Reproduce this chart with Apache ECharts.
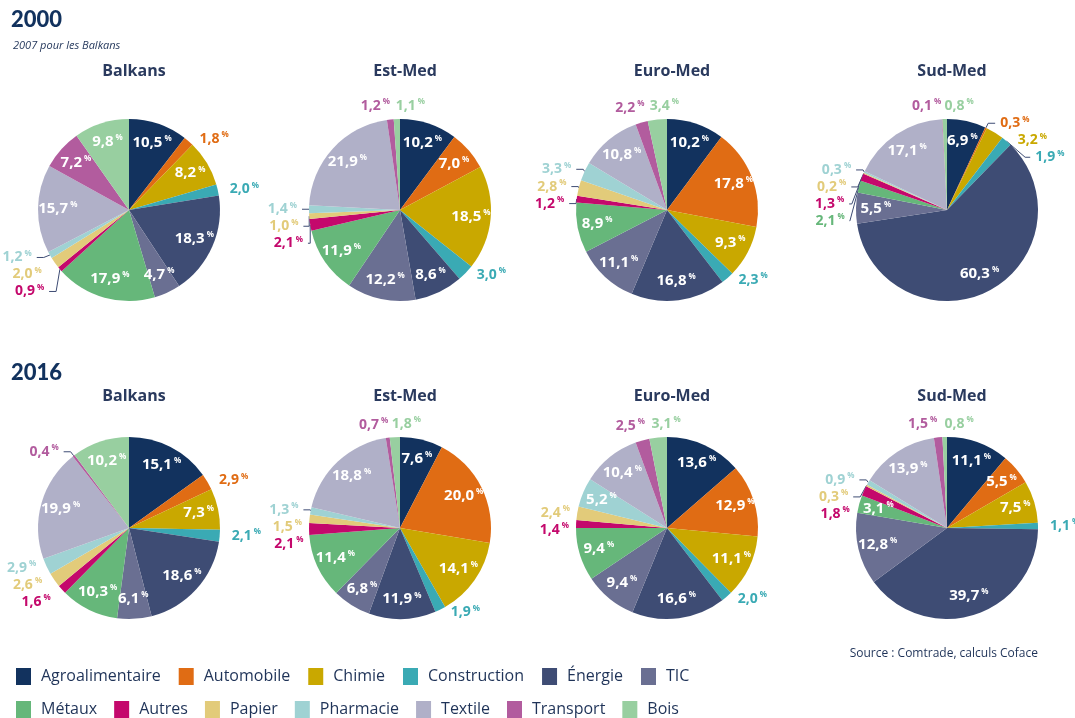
<!DOCTYPE html>
<html><head><meta charset="utf-8">
<script src="https://cdn.jsdelivr.net/npm/echarts@6/dist/echarts.min.js"></script>
<style>html,body{margin:0;padding:0;background:#fff}#c{width:1075px;height:718px}</style>
</head><body><div id="c"></div>
<script>
const categories = ['Agroalimentaire','Automobile','Chimie','Construction','Énergie','TIC','Métaux','Autres','Papier','Pharmacie','Textile','Transport','Bois'];
const colors = ['#12325e','#e06c14','#c9a800','#3aaab4','#3e4c74','#6a6f92','#66b77a','#c4086c','#e2cb7a','#9fd2d3','#b0b0c8','#b25c9e','#98cfa0'];
const regions = ['Balkans','Est-Med','Euro-Med','Sud-Med'];
const years = ['2000','2016'];

const balkans2000 = [10.5,1.8,8.2,2.0,18.3,4.7,17.9,0.9,2.0,1.2,15.7,7.2,9.8];
const estMed2000  = [10.2,7.0,18.5,3.0,8.6,12.2,11.9,2.1,1.0,1.4,21.9,1.2,1.1];
const euroMed2000 = [10.2,17.8,9.3,2.3,16.8,11.1,8.9,1.2,2.8,3.3,10.8,2.2,3.4];
const sudMed2000  = [6.9,0.3,3.2,1.9,60.3,5.5,2.1,1.3,0.2,0.3,17.1,0.1,0.8];
const balkans2016 = [15.1,2.9,7.3,2.1,18.6,6.1,10.3,1.6,2.6,2.9,19.9,0.4,10.2];
const estMed2016  = [7.6,20.0,14.1,1.9,11.9,6.8,11.4,2.1,1.5,1.3,18.8,0.7,1.8];
const euroMed2016 = [13.6,12.9,11.1,2.0,16.6,9.4,9.4,1.4,2.4,5.2,10.4,2.5,3.1];
const sudMed2016  = [11.1,5.5,7.5,1.1,39.7,12.8,3.1,1.8,0.3,0.9,13.9,1.5,0.8];

const pies = [
  {year:'2000', region:'Balkans',  values:balkans2000, lined:['Pharmacie','Autres']},
  {year:'2000', region:'Est-Med',  values:estMed2000,  lined:['Pharmacie','Papier','Autres']},
  {year:'2000', region:'Euro-Med', values:euroMed2000, lined:['Pharmacie','Papier','Autres']},
  {year:'2000', region:'Sud-Med',  values:sudMed2000,  lined:['Automobile','Construction','Pharmacie','Papier','Autres','Métaux']},
  {year:'2016', region:'Balkans',  values:balkans2016, lined:['Transport']},
  {year:'2016', region:'Est-Med',  values:estMed2016,  lined:['Pharmacie']},
  {year:'2016', region:'Euro-Med', values:euroMed2016, lined:[]},
  {year:'2016', region:'Sud-Med',  values:sudMed2016,  lined:['Pharmacie','Papier'], inside:['Métaux']}
];

const centersX = [129, 400, 667, 947];
const centersY = {'2000':210, '2016':528};
const R = 91;
const navy = '#1f3358';
const FONT = 'Open Sans';

function fmt(v){ return v.toFixed(1).replace('.', ','); }
function isInside(p, c, v){ return v >= 4 || (p.inside && p.inside.indexOf(c) >= 0); }

const series = [];
pies.forEach(p => {
  const cx = centersX[regions.indexOf(p.region)];
  const cy = centersY[p.year];
  const iT = categories.indexOf('Transport'), iB = categories.indexOf('Bois');
  const topPair = !isInside(p, 'Bois', p.values[iB]) && !isInside(p, 'Transport', p.values[iT]);
  series.push({
    type:'pie', name:p.region+' '+p.year, center:[cx,cy], radius:[0,R],
    startAngle:90, clockwise:true, silent:true, animation:false,
    label:{show:false}, labelLine:{show:false},
    data: categories.map((c,i)=>({name:c, value:p.values[i], itemStyle:{color:colors[i]}}))
  });
  series.push({
    type:'pie', name:p.region+' '+p.year+' labels', center:[cx,cy], radius:[R*0.5,R],
    startAngle:90, clockwise:true, silent:true, animation:false,
    avoidLabelOverlap:true,
    itemStyle:{color:'rgba(0,0,0,0)'},
    labelLayout: function(params){
      if (!topPair) return {};
      const name = categories[params.dataIndex];
      const r = params.rect;
      if (name === 'Bois') return {x: r.x + 2, y: r.y - 5, align:'left', verticalAlign:'bottom'};
      if (name === 'Transport') return {x: r.x + r.width/2 - 2, y: r.y - 5, align:'right', verticalAlign:'bottom'};
      return {};
    },
    data: categories.map((c,i)=>{
      const v = p.values[i];
      const inside = isInside(p, c, v);
      const lined = p.lined.indexOf(c) >= 0;
      const top = topPair && (c === 'Bois' || c === 'Transport');
      return {
        name:c, value:v, itemStyle:{color:'rgba(0,0,0,0)'},
        label: inside ? {
          show:true, position:'inside', overflow:'none',
          formatter:'{v|'+fmt(v)+'}{p|%}',
          rich:{v:{color:'#fff', fontSize:15, fontWeight:'bold', fontFamily:FONT},
                p:{color:'#fff', fontSize:8, fontWeight:'bold', fontFamily:FONT, padding:[0,0,8,2]}}
        } : {
          show:true, position:'outside', overflow:'none', width:80,
          formatter:'{v|'+fmt(v)+'}{p|%}',
          rich:{v:{color:colors[i], fontSize:14, fontWeight:'bold', fontFamily:FONT},
                p:{color:colors[i], fontSize:8, fontWeight:'bold', fontFamily:FONT, padding:[0,0,8,2]}}
        },
        labelLine: inside || top ? {show:false} : (lined
          ? {show:true, length:5, length2:7, smooth:false, lineStyle:{color:'#3e4c74', width:1}}
          : {show:false, length:3, length2:4})
      };
    })
  });
});

const titles = [
  {text:'2000', left:6, top:4, textStyle:{fontSize:22, fontWeight:900, color:'#12325e', fontFamily:'Lato'}},
  {text:'2007 pour les Balkans', left:8, top:35, textStyle:{fontSize:11, fontStyle:'italic', fontWeight:'normal', color:navy, fontFamily:FONT}},
  {text:'2016', left:6, top:357, textStyle:{fontSize:22, fontWeight:900, color:'#12325e', fontFamily:'Lato'}}
];
years.forEach(y => regions.forEach((r,i) => {
  titles.push({text:r, left:centersX[i], top: y==='2000' ? 58 : 383, textAlign:'center',
    textStyle:{fontSize:16, fontWeight:'bold', color:'#2a3a5e', fontFamily:FONT}});
}));

const legendText = {fontSize:16, color:navy, fontFamily:FONT, fontWeight:'normal', padding:[0,0,0,5]};
const option = {
  animation:false,
  title: titles,
  legend:[
    {data:categories.slice(0,6).map((c,i)=>({name:c, itemStyle:{color:colors[i]}})), left:11, top:663, icon:'rect', itemWidth:15, itemHeight:17, itemGap:18, selectedMode:false, textStyle:legendText},
    {data:categories.slice(6).map((c,i)=>({name:c, itemStyle:{color:colors[i+6]}})), left:11, top:696, icon:'rect', itemWidth:15, itemHeight:17, itemGap:17, selectedMode:false, textStyle:legendText}
  ],
  graphic:[
    {type:'text', right:37, top:648, style:{text:'Source : Comtrade, calculs Coface', fontSize:12, fill:navy, fontFamily:FONT}}
  ],
  series: series
};
const chart = echarts.init(document.getElementById('c'), null, {renderer:'canvas'});
chart.setOption(option);
</script></body></html>
